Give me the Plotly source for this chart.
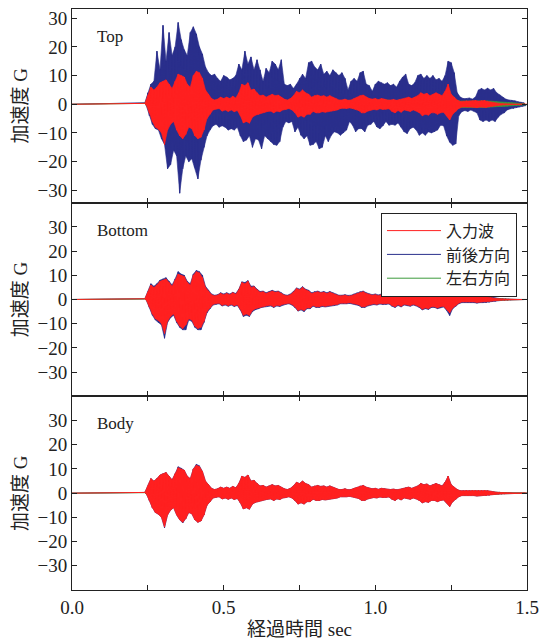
import numpy as np
import plotly.graph_objects as go
from plotly.subplots import make_subplots

# ---------------- data (envelope max / min per 0.01 s bin, t = 0.24 ... 1.49 s) ----------------
bin_start = 0.24
bin_width = 0.01

# 入力波 (input wave) – identical in all three panels
input_max = [0.3, 3, 6, 5, 6, 7.5, 8, 8.5, 7, 5.5,
             8, 10.5, 10, 9.5, 7, 6, 10, 11.5, 11, 9,
             5, 3.5, 2, 1.5, 1.8, 2.5, 2, 2.5, 2, 2.8,
             2.2, 4, 7, 6.5, 7.5, 5, 5.3, 4, 3, 3.2,
             2.5, 3, 3.5, 3, 3.2, 2.5, 1.8, 1.5, 2, 3,
             4.5, 4, 5, 4, 3.5, 2.5, 3, 3.2, 2.8, 3,
             2.5, 3, 2.5, 2, 1.5, 1.5, 1.8, 1.4, 1.5, 2,
             2.5, 3, 3.2, 2.5, 2, 1.8, 2, 1.6, 2, 1.8,
             1.5, 1.5, 1.7, 1.4, 1.6, 1.8, 2.2, 2.5, 2, 2.5,
             3, 4, 3.5, 3.8, 3, 3.5, 4, 3.5, 3, 4.5,
             7, 3.5, 2.5, 1.5, 1, 1, 1.2, 1, 1.2, 1.3,
             1.1, 1.2, 1.3, 1, 0.8, 0.5, 0.4, 0.3, 0.2, 0.1,
             0, 0, 0, 0, 0, 0]
input_min = [-0.3, -3, -6, -8, -8.7, -10, -14, -9, -7, -6,
             -9, -11, -12, -10.5, -8, -8.5, -11, -12, -11.5, -9,
             -5, -3.5, -2, -1.7, -1.5, -2.4, -2, -2.5, -2, -2.6,
             -2.2, -4, -6.5, -6, -6.6, -4.5, -3.8, -3.5, -3, -2.8,
             -2.5, -2.4, -3, -2.4, -2.6, -2, -1.8, -1.5, -2, -3,
             -4.5, -4, -4.5, -3.5, -3.5, -2.5, -3, -3, -2.6, -2.8,
             -2.4, -2.4, -2.2, -2, -1.5, -1.4, -1.5, -1.3, -1.5, -1.8,
             -2.2, -3, -3, -2.4, -2, -1.8, -2, -1.6, -1.8, -1.8,
             -1.6, -2.5, -3, -2.2, -2.8, -2, -2.2, -2.5, -2, -2.4,
             -3, -4, -3.5, -3.8, -3, -3, -3.5, -3, -2.8, -4,
             -5.5, -3.5, -2.5, -1.5, -1, -0.9, -1, -1, -1, -1.2,
             -1, -1, -1.1, -0.9, -0.7, -0.5, -0.4, -0.3, -0.2, -0.1,
             0, 0, 0, 0, 0, 0]

# Top – 前後方向
top_fb_max = [0.5, 4, 7, 8, 18.5, 12, 27.5, 15, 25, 17,
              20, 28.5, 22.5, 19, 17, 25, 27, 24.5, 20, 17.5,
              13, 11, 10, 10.5, 9, 8, 10, 9.5, 8.5, 9,
              10, 14, 12, 18.5, 14, 16.5, 12, 15.5, 12, 8,
              12.5, 11, 15, 14, 12, 15.5, 7, 6.5, 7, 5.5,
              7, 9, 10.5, 9, 14.5, 15, 13, 12, 14, 10.5,
              11.5, 10, 12, 11, 10, 11, 9, 5, 8, 9,
              8, 11, 11.5, 7, 6.5, 4.5, 7, 8, 7.5, 7,
              7.5, 6.5, 7, 6, 8, 9.5, 10.5, 7, 6.5, 7.5,
              10, 10.5, 9, 10, 9, 10, 8.5, 9, 8, 10,
              15, 14.5, 11, 4, 2.5, 2, 2, 2.2, 1.8, 2.5,
              5, 5.5, 5, 5.6, 5, 5.5, 4, 3.3, 2.5, 1.8,
              1.5, 1.4, 1.2, 0.9, 0.7, 0.5]
top_fb_min = [-0.5, -4, -7, -8.5, -9, -12, -14, -22.5, -21, -16,
              -18, -31, -22.5, -18, -20, -19, -22, -26, -19.5, -15,
              -11, -9, -7.5, -7, -8, -7.5, -8, -9, -8.5, -9,
              -8, -11, -13, -12.5, -11, -15, -12, -12.5, -15.5, -11,
              -12, -13, -14, -14.3, -13, -8, -6, -6.5, -6, -9.6,
              -8, -10.8, -12, -11, -14.3, -14, -13, -15.5, -15, -11,
              -13, -10.8, -9.6, -10, -10.8, -10, -9, -6, -7.3, -9.6,
              -8.5, -8.5, -9.6, -7.3, -7, -6, -7.9, -8.5, -7.5, -6,
              -7.3, -7, -7.3, -6.5, -8, -9.6, -10.2, -8.5, -8, -9,
              -10.8, -10, -10.8, -9.6, -10, -9.6, -9, -7.3, -7.5, -11,
              -13.2, -14.3, -13.8, -4, -2.6, -2.2, -2.5, -2, -2.4, -3,
              -5.5, -6, -5.5, -6, -5.5, -6, -4.5, -3.5, -3, -2,
              -1.6, -1.5, -1.2, -1, -0.7, -0.5]

# Top – 左右方向
top_lr_max = [0.3, 2, 4, 4, 5, 5.5, 6, 6.5, 5.5, 4.5,
              6, 8, 8, 7.5, 5.5, 5, 8, 9, 8.5, 7,
              4, 2.8, 1.6, 1.3, 1.5, 2, 1.7, 2, 1.7, 2.2,
              1.8, 3.2, 5.5, 5, 6, 4, 4.2, 3.2, 2.4, 2.6,
              2, 2.4, 2.8, 2.4, 2.6, 2, 1.5, 1.3, 1.7, 2.4,
              3.6, 3.2, 4, 3.2, 2.8, 2, 2.4, 2.6, 2.2, 2.4,
              2, 2.4, 2, 1.7, 1.3, 1.3, 1.5, 1.2, 1.3, 1.7,
              2, 2.4, 2.6, 2, 1.7, 1.5, 1.7, 1.4, 1.7, 1.5,
              1.3, 1.3, 1.4, 1.2, 1.4, 1.5, 1.8, 2, 1.7, 2,
              2.4, 3.2, 2.8, 3, 2.4, 2.8, 3.2, 2.8, 2.4, 3.6,
              5.5, 2.8, 2, 1.3, 1.1, 1.1, 1.2, 1.1, 1.2, 1.3,
              1.2, 1.3, 1.3, 1.2, 1.1, 1, 0.9, 0.8, 0.8, 0.7,
              0.7, 0.6, 0.5, 0.4, 0.3, 0.2]
top_lr_min = [-0.3, -2, -4.5, -6, -6.5, -7.5, -10, -7, -5.5, -4.5,
              -7, -8.5, -9.5, -8, -6, -6.5, -8.5, -9.5, -9, -7,
              -4, -2.8, -1.6, -1.4, -1.2, -1.9, -1.6, -2, -1.6, -2.1,
              -1.8, -3.2, -5, -4.8, -5.2, -3.6, -3, -2.8, -2.4, -2.2,
              -2, -1.9, -2.4, -1.9, -2.1, -1.6, -1.4, -1.2, -1.6, -2.4,
              -3.6, -3.2, -3.6, -2.8, -2.8, -2, -2.4, -2.4, -2.1, -2.2,
              -1.9, -1.9, -1.8, -1.6, -1.2, -1.1, -1.2, -1, -1.2, -1.4,
              -1.8, -2.4, -2.4, -1.9, -1.6, -1.4, -1.6, -1.3, -1.4, -1.4,
              -1.3, -2, -2.4, -1.8, -2.2, -1.6, -1.8, -2, -1.6, -1.9,
              -2.4, -3.2, -2.8, -3, -2.4, -2.4, -2.8, -2.4, -2.2, -3.2,
              -4.4, -2.8, -2, -1.3, -1.1, -1, -1.1, -1.1, -1.1, -1.2,
              -1.1, -1.1, -1.2, -1.1, -1, -0.9, -0.8, -0.8, -0.7, -0.7,
              -0.6, -0.6, -0.5, -0.4, -0.3, -0.2]

# Bottom – 前後方向
bottom_fb_max = [0.3, 3.2, 6.5, 5.5, 6.5, 8, 8.5, 9, 7.5, 6,
                 8.5, 11.5, 10.5, 10, 7.5, 6.5, 10.5, 12, 11.5, 10,
                 5.5, 3.8, 2.3, 1.8, 2, 2.8, 2.3, 2.8, 2.3, 3,
                 2.5, 4.3, 7.3, 7, 7.8, 5.5, 5.6, 4.3, 3.3, 3.5,
                 2.8, 3.3, 3.8, 3.3, 3.5, 2.8, 2, 1.8, 2.3, 3.3,
                 4.8, 4.3, 5.3, 4.3, 3.8, 2.8, 3.3, 3.5, 3, 3.3,
                 2.8, 3.3, 2.8, 2.3, 1.8, 1.8, 2, 1.7, 1.8, 2.3,
                 2.8, 3.3, 3.5, 2.8, 2.3, 2, 2.3, 1.9, 2.3, 2,
                 1.8, 1.8, 2, 1.7, 1.9, 2, 2.5, 2.8, 2.3, 2.8,
                 3.3, 4.3, 3.8, 4, 3.3, 3.8, 4.3, 3.8, 3.3, 4.8,
                 7.3, 3.8, 2.8, 1.8, 1.3, 1.3, 1.5, 1.3, 1.5, 1.6,
                 1.4, 1.5, 1.5, 1.3, 1.1, 0.8, 0.6, 0.4, 0.3, 0.2,
                 0.1, 0, 0, 0, 0, 0]
bottom_fb_min = [-0.3, -3.2, -6.5, -8.5, -9.5, -10.5, -16, -9.5, -7.5, -6.5,
                 -9.5, -11.5, -12.5, -12.5, -8.5, -9, -11.5, -12.5, -12.5, -9.5,
                 -5.5, -3.8, -2.3, -2, -1.8, -2.7, -2.3, -2.8, -2.3, -2.9,
                 -2.5, -4.3, -7, -6.5, -7, -5, -4.2, -3.8, -3.3, -3.1,
                 -2.8, -2.7, -3.3, -2.7, -2.9, -2.3, -2, -1.8, -2.3, -3.3,
                 -4.8, -4.3, -5, -3.8, -3.8, -2.8, -3.3, -3.3, -2.9, -3.1,
                 -2.7, -2.7, -2.5, -2.3, -1.8, -1.7, -1.8, -1.6, -1.8, -2.1,
                 -2.5, -3.3, -3.3, -2.7, -2.3, -2.1, -2.3, -1.9, -2.1, -2.1,
                 -1.9, -2.8, -3.3, -2.5, -3.1, -2.3, -2.5, -2.8, -2.3, -2.7,
                 -3.3, -4.3, -3.8, -4.1, -3.3, -3.3, -3.8, -3.3, -3.1, -4.5,
                 -6.6, -3.8, -2.8, -1.8, -1.3, -1.2, -1.3, -1.3, -1.3, -1.5,
                 -1.3, -1.3, -1.4, -1.2, -1, -0.8, -0.6, -0.4, -0.3, -0.2,
                 -0.1, 0, 0, 0, 0, 0]

# Bottom – 左右方向
bottom_lr_max = [0.2, 2, 4, 3.5, 4, 5, 5.5, 6, 5, 4,
                 5.5, 7, 7, 6.5, 5, 4, 7, 8, 7.5, 6,
                 3.5, 2.5, 1.4, 1, 1.2, 1.7, 1.4, 1.7, 1.4, 1.9,
                 1.5, 2.8, 4.8, 4.5, 5, 3.5, 3.6, 2.8, 2, 2.2,
                 1.7, 2, 2.4, 2, 2.2, 1.7, 1.2, 1, 1.4, 2,
                 3, 2.8, 3.4, 2.8, 2.4, 1.7, 2, 2.2, 1.9, 2,
                 1.7, 2, 1.7, 1.4, 1, 1, 1.2, 1, 1, 1.4,
                 1.7, 2, 2.2, 1.7, 1.4, 1.2, 1.4, 1.1, 1.4, 1.2,
                 1, 1, 1.2, 1, 1.1, 1.2, 1.5, 1.7, 1.4, 1.7,
                 2, 2.8, 2.4, 2.6, 2, 2.4, 2.8, 2.4, 2, 3,
                 4.8, 2.4, 1.7, 1, 0.7, 0.7, 0.8, 0.7, 0.8, 0.9,
                 0.8, 0.8, 0.9, 0.7, 0.6, 0.4, 0.3, 0.2, 0.1, 0.1,
                 0, 0, 0, 0, 0, 0]
bottom_lr_min = [-0.2, -2, -4, -5.5, -6, -7, -9.5, -6, -5, -4,
                 -6, -7.5, -8, -7, -5.5, -6, -7.5, -8, -8, -6,
                 -3.5, -2.4, -1.4, -1.2, -1, -1.6, -1.4, -1.7, -1.4, -1.8,
                 -1.5, -2.8, -4.5, -4, -4.5, -3, -2.6, -2.4, -2, -1.9,
                 -1.7, -1.6, -2, -1.6, -1.8, -1.4, -1.2, -1, -1.4, -2,
                 -3, -2.8, -3, -2.4, -2.4, -1.7, -2, -2, -1.8, -1.9,
                 -1.6, -1.6, -1.5, -1.4, -1, -1, -1, -0.9, -1, -1.2,
                 -1.5, -2, -2, -1.6, -1.4, -1.2, -1.4, -1.1, -1.2, -1.2,
                 -1.1, -1.7, -2, -1.5, -1.9, -1.4, -1.5, -1.7, -1.4, -1.6,
                 -2, -2.8, -2.4, -2.6, -2, -2, -2.4, -2, -1.9, -2.8,
                 -3.8, -2.4, -1.7, -1, -0.7, -0.6, -0.7, -0.7, -0.7, -0.8,
                 -0.7, -0.7, -0.7, -0.6, -0.5, -0.4, -0.3, -0.2, -0.1, -0.1,
                 0, 0, 0, 0, 0, 0]

# Body – 前後方向
body_fb_max = [0.3, 3, 6, 5, 6, 7.5, 8, 8.5, 7, 5.5,
               8, 10.9, 10.3, 9.5, 7, 6, 10, 11.9, 11.3, 9,
               5, 3.5, 2, 1.5, 1.8, 2.5, 2, 2.5, 2, 2.8,
               2.2, 4, 7, 6.5, 7.5, 5, 5.3, 4, 3, 3.2,
               2.5, 3, 3.5, 3, 3.2, 2.5, 1.8, 1.5, 2, 3,
               4.5, 4, 5, 4, 3.5, 2.5, 3, 3.2, 2.8, 3,
               2.5, 3, 2.5, 2, 1.5, 1.5, 1.8, 1.4, 1.5, 2,
               2.5, 3, 3.2, 2.5, 2, 1.8, 2, 1.6, 2, 1.8,
               1.5, 1.5, 1.7, 1.4, 1.6, 1.8, 2.2, 2.5, 2, 2.5,
               3, 4, 3.5, 3.8, 3, 3.5, 4, 3.5, 3, 4.5,
               7, 3.5, 2.5, 1.5, 1, 1, 1.2, 1, 1.2, 1.3,
               1.1, 1.2, 1.3, 1, 0.8, 0.5, 0.4, 0.3, 0.2, 0.1,
               0, 0, 0, 0, 0, 0]
body_fb_min = [-0.3, -3, -6, -8, -8.7, -10, -14.3, -9, -7, -6,
               -9, -11, -12.3, -10.5, -8, -8.5, -11, -12, -11.5, -9,
               -5, -3.5, -2, -1.7, -1.5, -2.4, -2, -2.5, -2, -2.6,
               -2.2, -4, -6.5, -6, -6.6, -4.5, -3.8, -3.5, -3, -2.8,
               -2.5, -2.4, -3, -2.4, -2.6, -2, -1.8, -1.5, -2, -3,
               -4.5, -4, -4.5, -3.5, -3.5, -2.5, -3, -3, -2.6, -2.8,
               -2.4, -2.4, -2.2, -2, -1.5, -1.4, -1.5, -1.3, -1.5, -1.8,
               -2.2, -3, -3, -2.4, -2, -1.8, -2, -1.6, -1.8, -1.8,
               -1.6, -2.5, -3, -2.2, -2.8, -2, -2.2, -2.5, -2, -2.4,
               -3, -4, -3.5, -3.8, -3, -3, -3.5, -3, -2.8, -4,
               -5.5, -3.5, -2.5, -1.5, -1, -0.9, -1, -1, -1, -1.2,
               -1, -1, -1.1, -0.9, -0.7, -0.5, -0.4, -0.3, -0.2, -0.1,
               0, 0, 0, 0, 0, 0]

# Body – 左右方向
body_lr_max = [0.2, 1.8, 3.8, 3.4, 3.8, 4.8, 5.2, 5.6, 4.7, 3.8,
               5.2, 6.6, 6.8, 6.2, 4.8, 3.9, 6.6, 7.6, 7.2, 5.7,
               3.3, 2.3, 1.3, 1, 1.1, 1.6, 1.3, 1.6, 1.3, 1.8,
               1.4, 2.6, 4.5, 4.2, 4.7, 3.3, 3.4, 2.6, 1.9, 2.1,
               1.6, 1.9, 2.2, 1.9, 2, 1.6, 1.1, 1, 1.3, 1.9,
               2.8, 2.6, 3.2, 2.6, 2.2, 1.6, 1.9, 2, 1.8, 1.9,
               1.6, 1.9, 1.6, 1.3, 1, 1, 1.1, 0.9, 1, 1.3,
               1.6, 1.9, 2, 1.6, 1.3, 1.1, 1.3, 1, 1.3, 1.1,
               1, 1, 1.1, 0.9, 1, 1.1, 1.4, 1.6, 1.3, 1.6,
               1.9, 2.6, 2.2, 2.4, 1.9, 2.2, 2.6, 2.2, 1.9, 2.8,
               4.5, 2.2, 1.6, 1, 0.7, 0.6, 0.7, 0.6, 0.7, 0.8,
               0.7, 0.7, 0.8, 0.6, 0.5, 0.4, 0.3, 0.2, 0.1, 0.1,
               0, 0, 0, 0, 0, 0]
body_lr_min = [-0.2, -1.8, -3.8, -5.2, -5.6, -6.6, -9, -5.7, -4.7, -3.8,
               -5.7, -7.1, -7.6, -6.6, -5.2, -5.7, -7.1, -7.6, -7.6, -5.7,
               -3.3, -2.3, -1.3, -1.1, -1, -1.5, -1.3, -1.6, -1.3, -1.7,
               -1.4, -2.6, -4.2, -3.8, -4.2, -2.8, -2.4, -2.3, -1.9, -1.8,
               -1.6, -1.5, -1.9, -1.5, -1.7, -1.3, -1.1, -1, -1.3, -1.9,
               -2.8, -2.6, -2.8, -2.2, -2.2, -1.6, -1.9, -1.9, -1.7, -1.8,
               -1.5, -1.5, -1.4, -1.3, -1, -0.9, -1, -0.8, -1, -1.1,
               -1.4, -1.9, -1.9, -1.5, -1.3, -1.1, -1.3, -1, -1.1, -1.1,
               -1, -1.6, -1.9, -1.4, -1.8, -1.3, -1.4, -1.6, -1.3, -1.5,
               -1.9, -2.6, -2.2, -2.4, -1.9, -1.9, -2.2, -1.9, -1.8, -2.6,
               -3.6, -2.2, -1.6, -1, -0.7, -0.6, -0.7, -0.6, -0.6, -0.7,
               -0.6, -0.6, -0.7, -0.6, -0.5, -0.4, -0.3, -0.2, -0.1, -0.1,
               0, 0, 0, 0, 0, 0]

panel_names = ["Top", "Bottom", "Body"]
series_names = ["入力波", "前後方向", "左右方向"]
y_ticks = [-30, -20, -10, 0, 10, 20, 30]
y_tick_text = ["−30", "−20", "−10", "0", "10", "20", "30"]
x_ticks = [0.0, 0.25, 0.5, 0.75, 1.0, 1.25, 1.5]
x_tick_text = ["0.0", "", "0.5", "", "1.0", "", "1.5"]
y_ranges = [[-34.3, 33.2], [-40, 40], [-40, 40]]

panels = [
    (top_fb_max, top_fb_min, top_lr_max, top_lr_min),
    (bottom_fb_max, bottom_fb_min, bottom_lr_max, bottom_lr_min),
    (body_fb_max, body_fb_min, body_lr_max, body_lr_min),
]

RED = "#ff2020"
BLUE = "#2a2f8c"
GREEN = "#3c9a3c"
SERIF = "Liberation Serif, 'Noto Sans CJK JP', serif"
AX = "#222222"


def bin_times(n):
    return [round(bin_start + i * bin_width, 4) for i in range(n)]


def zigzag_xy(vmax, vmin):
    """min/max envelope per bin as an alternating line, flat zero outside the record."""
    xs, ys = [0.0], [0.0]
    for t, a, b in zip(bin_times(len(vmax)), vmax, vmin):
        xs += [t, t + bin_width / 2]
        ys += [a, b]
    xs.append(1.5)
    ys.append(0.0)
    return xs, ys


def band_xy(vmax, vmin):
    """closed outline of the same min/max envelope (upper edge, then lower edge back)."""
    ts = bin_times(len(vmax))
    xs = ts + [t + bin_width / 2 for t in ts][::-1]
    ys = list(vmax) + list(vmin)[::-1]
    return xs, ys


def add_series(r, vmax, vmin, name, color, rank, show):
    bx, by = band_xy(vmax, vmin)
    fig.add_trace(go.Scatter(x=bx, y=by, mode="lines", fill="toself",
                             fillcolor=color, line=dict(color=color, width=0.6),
                             showlegend=False, hoverinfo="skip"), row=r, col=1)
    zx, zy = zigzag_xy(vmax, vmin)
    fig.add_trace(go.Scatter(x=zx, y=zy, mode="lines", name=name,
                             line=dict(color=color, width=1, simplify=False),
                             showlegend=show, legendrank=rank,
                             hoverinfo="skip"), row=r, col=1)


fig = make_subplots(rows=3, cols=1, shared_xaxes=True, vertical_spacing=0)

for r, (fbmax, fbmin, lrmax, lrmin) in enumerate(panels, start=1):
    show = (r == 2)
    add_series(r, fbmax, fbmin, series_names[1], BLUE, 2, show)
    add_series(r, lrmax, lrmin, series_names[2], GREEN, 3, show)
    add_series(r, input_max, input_min, series_names[0], RED, 1, show)

    fig.update_yaxes(row=r, col=1, range=y_ranges[r - 1], tickvals=y_ticks,
                     ticktext=y_tick_text, ticks="inside", ticklen=5,
                     tickcolor=AX, showline=True, linecolor=AX, linewidth=1,
                     mirror="ticks", showgrid=False, zeroline=False,
                     automargin=False,
                     tickfont=dict(family=SERIF, size=19, color="#222"),
                     title=dict(text="加速度 G", standoff=4,
                                font=dict(family=SERIF, size=19, color="#222")))
    fig.update_xaxes(row=r, col=1, range=[0, 1.5], tickvals=x_ticks,
                     ticktext=x_tick_text, ticks="inside", ticklen=5,
                     tickcolor=AX, showline=True, linecolor=AX, linewidth=1,
                     mirror="ticks", showgrid=False, zeroline=False,
                     automargin=False,
                     tickfont=dict(family=SERIF, size=19, color="#222"))

fig.update_xaxes(row=3, col=1, showticklabels=True,
                 title=dict(text="経過時間 sec", standoff=6,
                            font=dict(family=SERIF, size=19, color="#222")))

label_y = [0.952, 0.6196, 0.287]
for name, yy in zip(panel_names, label_y):
    fig.add_annotation(text=name, xref="paper", yref="paper", x=0.051, y=yy,
                       xanchor="left", yanchor="middle", showarrow=False,
                       font=dict(family=SERIF, size=17, color="#222"))

fig.update_layout(
    width=539, height=640,
    margin=dict(l=72, r=12, t=9, b=50),
    paper_bgcolor="white", plot_bgcolor="white",
    legend=dict(x=0.978, y=0.6494, xanchor="right", yanchor="top",
                bgcolor="white", bordercolor=AX, borderwidth=1,
                font=dict(family=SERIF, size=16, color="#222"),
                itemwidth=54, tracegroupgap=0),
)

fig.write_html("out.html", config={"displayModeBar": False},
               post_script="document.body.style.margin='0';document.body.style.padding='0';")
